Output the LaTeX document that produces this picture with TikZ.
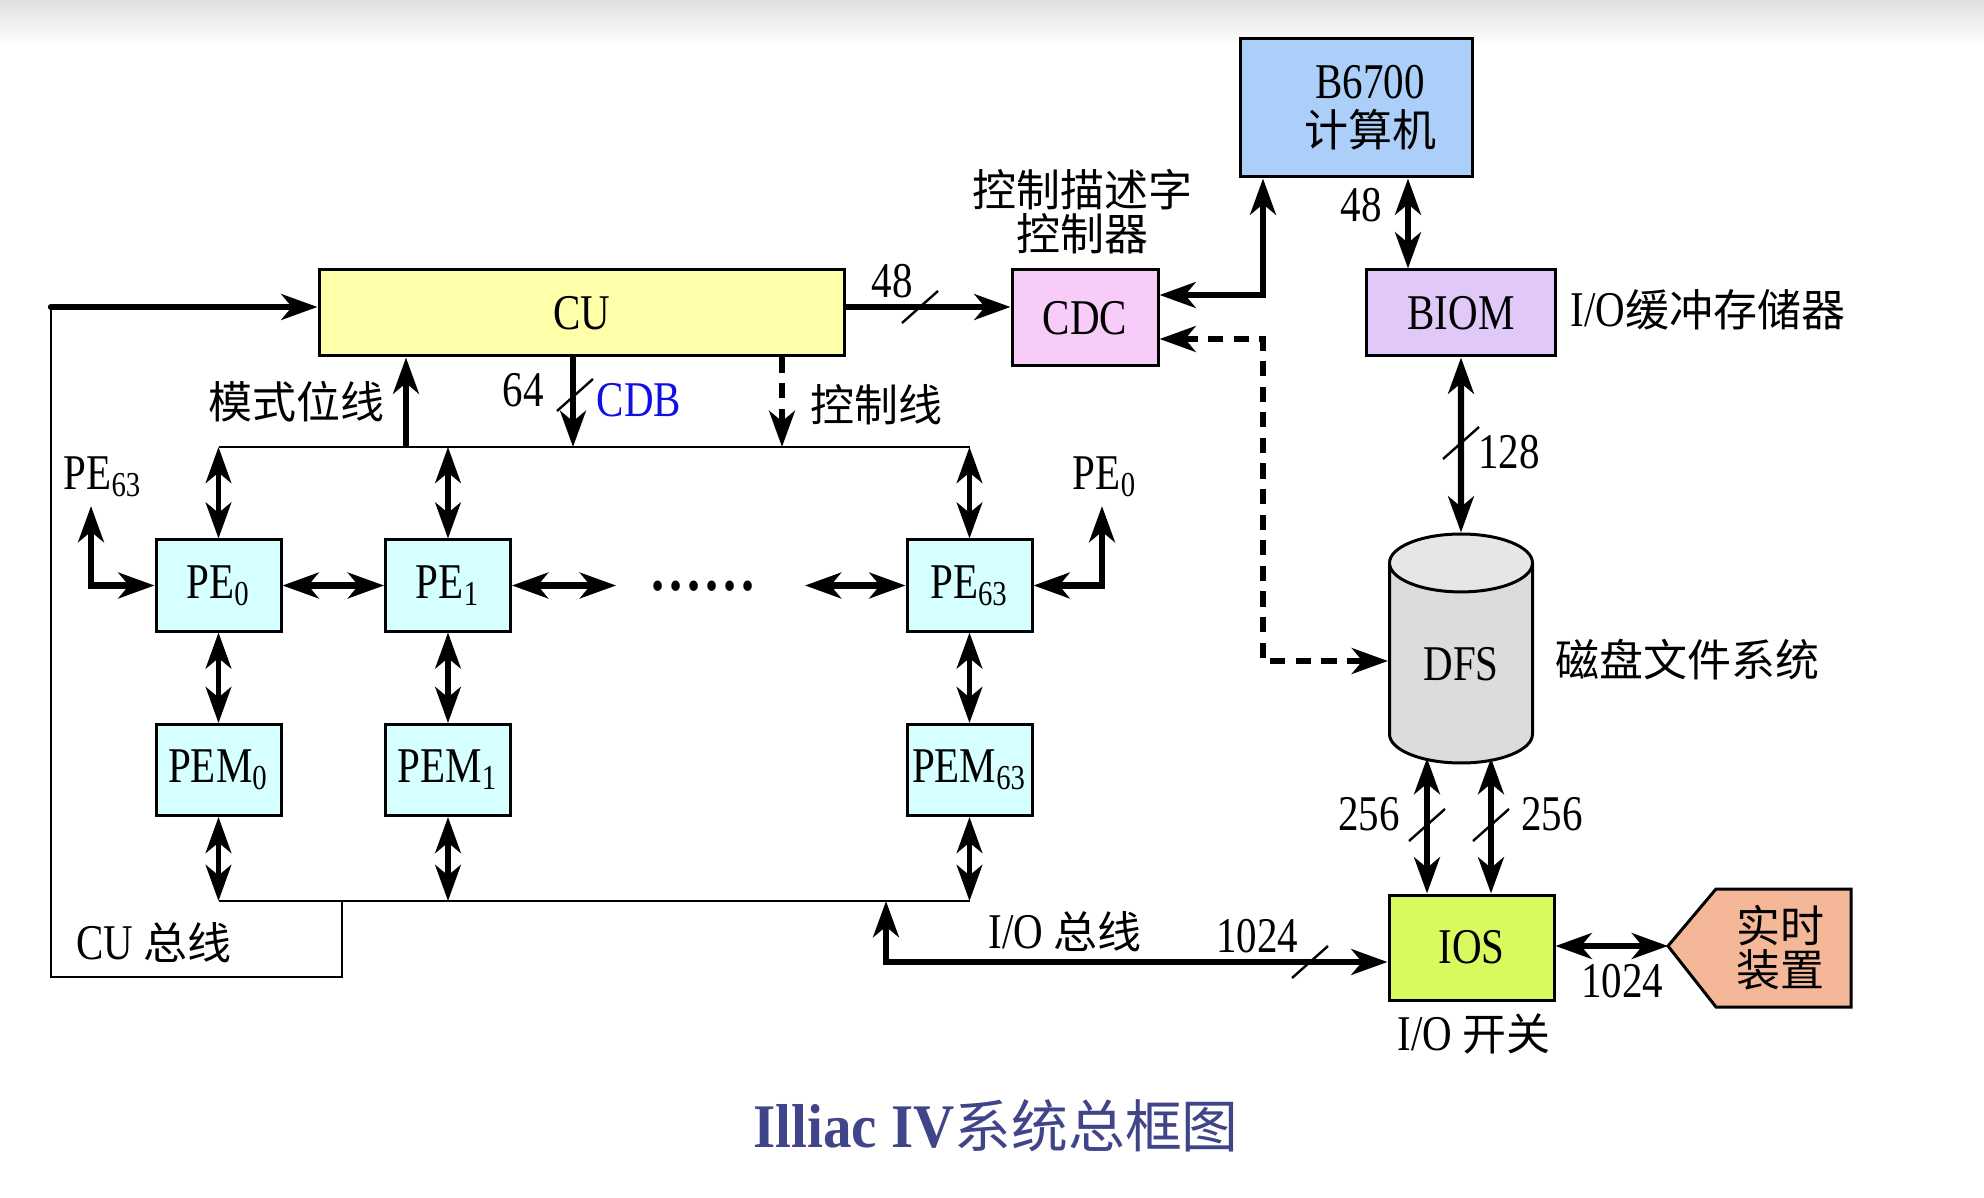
\documentclass[tikz,border=0pt]{standalone}
\usepackage{fontspec}
\setmainfont{Liberation Serif}[FakeStretch=0.82]
\newfontfamily\cjk{Noto Sans CJK SC}
\newfontfamily\titlefont{Liberation Serif}[FakeStretch=0.92]
\usetikzlibrary{arrows.meta,shapes.geometric}

\definecolor{cucol}{RGB}{255,255,170}
\definecolor{cdccol}{RGB}{248,204,248}
\definecolor{hostcol}{RGB}{171,207,248}
\definecolor{biomcol}{RGB}{224,200,248}
\definecolor{pecol}{RGB}{214,255,255}
\definecolor{dfscol}{RGB}{220,220,220}
\definecolor{dfstop}{RGB}{230,230,230}
\definecolor{ioscol}{RGB}{216,250,94}
\definecolor{rtdcol}{RGB}{244,184,152}
\definecolor{titlecol}{RGB}{64,68,136}
\definecolor{cdbblue}{RGB}{16,16,230}

\newcommand{\zh}[1]{{\cjk #1}}
\newcommand{\en}[1]{{\rmfamily\fontsize{12.5}{13}\selectfont #1}}
\newcommand{\busmark}[1]{\draw[line width=0.6pt] (#1) +(-18,16) -- +(18,-16);}

\tikzset{every picture/.style={line width=0.75pt}}
\tikzset{
  box/.style={draw, line width=0.75pt, inner sep=0pt, align=center, font=\fontsize{12.5}{12}\selectfont},
  pebox/.style={box, fill=pecol, minimum width=31.25pt, minimum height=22.75pt},
  fat/.style={line width=1.6pt},
  mid/.style={line width=1.3pt},
  thinline/.style={line width=0.6pt},
  dashline/.style={line width=1.6pt, dash pattern=on 3.8pt off 2.6pt},
  numlabel/.style={inner sep=0pt, font=\fontsize{12.5}{13}\selectfont},
  zhlabel/.style={inner sep=0pt, align=center, font=\cjk\fontsize{11}{11}\selectfont},
}

\begin{document}
\begin{tikzpicture}[x=0.25pt,y=0.25pt,yscale=-1,xscale=1,
  >={Stealth[length=9pt,width=6.4pt,inset=2.6pt]}]
\path[use as bounding box, fill=white] (0,0) rectangle (1984,1198);
\shade[top color=black!12, bottom color=white] (0,0) rectangle (1984,46);

% boxes
\node[box, fill=cucol, minimum width=131.25pt, minimum height=21.5pt] (cu) at (581.5,313) {CU};
\node[box, fill=cdccol, minimum width=36.5pt, minimum height=24pt] (cdc) at (1085,318) {CDC};
\node[box, fill=hostcol, minimum width=58pt, minimum height=34.5pt] (b6700) at (1356,108) {\hspace*{7pt}B6700\\\hspace*{7pt}\zh{\fontsize{11}{12}\selectfont 计算机}};
\node[box, fill=biomcol, minimum width=47.25pt, minimum height=21.5pt] (biom) at (1461,313) {BIOM};
\node[box, cylinder, shape border rotate=90, aspect=0.77, cylinder uses custom fill, cylinder body fill=dfscol, cylinder end fill=dfstop, minimum width=35.75pt, minimum height=57.25pt, anchor=shape center] (dfs) at (1461,648.5) {DFS};
\node[box, fill=ioscol, minimum width=41.25pt, minimum height=26.25pt] (ios) at (1471.5,947.5) {IOS};

% PE and PEM
\node[pebox] (pe0) at (218.5,585.5) {PE\textsubscript{0}};
\node[pebox] (pe1) at (448,585.5) {PE\textsubscript{1}};
\node[pebox] (pe63) at (969.5,585.5) {PE\textsubscript{63}};
\node[pebox] (pem0) at (218.5,770) {PEM\textsubscript{0}};
\node[pebox] (pem1) at (448,770) {PEM\textsubscript{1}};
\node[pebox] (pem63) at (969.5,770) {PEM\textsubscript{63}};

% real time device
\draw[line width=0.75pt, fill=rtdcol] (1668,946) -- (1716,889) -- (1851,889) -- (1851,1007) -- (1716,1007) -- cycle;
\coordinate (rtdtip) at (1668,946);
\node[zhlabel] (rtd) at (1780,948) {实时\\装置};

% helper points
\coordinate (feed) at (51,307);
\coordinate (cubus) at (342,977);
\coordinate (bustopL) at (219,447);
\coordinate (bustopR) at (970,447);
\coordinate (busbotL) at (219,901);
\coordinate (busbotR) at (970,901);
\coordinate (mode) at (406,447);
\coordinate (cdb) at (573,447);
\coordinate (ctrl) at (782,447);
\coordinate (iobus) at (886,962);
\coordinate (cdcup) at (1263,295);
\coordinate (cdcdash) at (1263,339);
\coordinate (dfsdash) at (1263,661);
\coordinate (hostbiom) at (1408,250);
\coordinate (dfsL) at (1427,758);
\coordinate (dfsR) at (1491,758);
\coordinate (pe63in) at (91,506);
\coordinate (pe0in) at (1102,506);
\coordinate (pe1r) at (616,585.5);
\coordinate (pe63l) at (805,585.5);

% CU side
\draw[fat, line cap=round, ->] (feed) -- (feed -| cu.west);
\draw[thinline] (feed) |- (cubus) -- (cubus |- busbotL);
\draw[fat, ->] (feed -| cu.east) -- (feed -| cdc.west);
\busmark{920,307}
\draw[fat, <->] (cdc.east |- cdcup) -| (b6700.south -| cdcup);
\draw[dashline, <->] (cdc.east |- cdcdash) -- (cdcdash) -- (dfsdash) -- (dfsdash -| dfs.west);
\draw[fat, <->] (b6700.south -| hostbiom) -- (biom.north -| hostbiom);
\draw[fat, <->] (biom.south) -- (dfs.north);
\busmark{1461,443}
\draw[fat, <->] (dfsL) -- (dfsL |- ios.north);
\draw[fat, <->] (dfsR) -- (dfsR |- ios.north);
\busmark{1427,825}
\busmark{1491,825}
\draw[fat, <->] (ios.east |- rtdtip) -- (rtdtip);
\draw[fat, <->] (ios.west |- iobus) -- (iobus) -- (iobus |- busbotL);
\busmark{1310,962}

% buses
\draw[thinline] (bustopL) -- (bustopR);
\draw[thinline] (busbotL) -- (busbotR);
\draw[fat, ->] (mode) -- (mode |- cu.south);
\draw[fat, ->] (cdb |- cu.south) -- (cdb);
\busmark{575,395}
\draw[dashline, ->] (ctrl |- cu.south) -- (ctrl);

% PE links
\draw[mid, <->] (pe0 |- bustopL) -- (pe0.north);
\draw[mid, <->] (pe1 |- bustopL) -- (pe1.north);
\draw[mid, <->] (pe63 |- bustopL) -- (pe63.north);
\draw[mid, <->] (pe0.south) -- (pem0.north);
\draw[mid, <->] (pe1.south) -- (pem1.north);
\draw[mid, <->] (pe63.south) -- (pem63.north);
\draw[mid, <->] (pem0.south) -- (pem0.south |- busbotL);
\draw[mid, <->] (pem1.south) -- (pem1.south |- busbotL);
\draw[mid, <->] (pem63.south) -- (pem63.south |- busbotL);
\draw[fat, <->] (pe0.east) -- (pe1.west);
\draw[fat, <->] (pe1.east) -- (pe1r);
\draw[fat, <->] (pe63l) -- (pe63.west);
\draw[fat, <->] (pe0.west) -| (pe63in);
\draw[fat, <->] (pe63.east) -| (pe0in);
\node[inner sep=0pt, anchor=base, font=\bfseries\fontsize{16}{16}\selectfont] (dots) at (703,590) {.\kern1.2pt.\kern1.2pt.\kern1.2pt.\kern1.2pt.\kern1.2pt.};

% labels
\node[numlabel] (n48a) at (892,281) {48};
\node[numlabel] (n48b) at (1361,205) {48};
\node[numlabel] (n128) at (1509,452) {128};
\node[numlabel] (n256a) at (1369,814) {256};
\node[numlabel] (n256b) at (1552,814) {256};
\node[numlabel] (n1024a) at (1257,936) {1024};
\node[numlabel] (n1024b) at (1622,981) {1024};
\node[numlabel] (n64) at (523,390) {64};
\node[numlabel, text=cdbblue] (cdblbl) at (639,400) {CDB};
\node[numlabel] (pe63lbl) at (103,477) {PE\textsubscript{63}};
\node[numlabel] (pe0lbl) at (1105,477) {PE\textsubscript{0}};
\node[zhlabel] (modelbl) at (297,402) {模式位线};
\node[zhlabel] (ctrllbl) at (876,405) {控制线};
\node[zhlabel] (cdcname) at (1082,212) {控制描述字\\控制器};
\node[zhlabel, anchor=west] (biomname) at (1569,310) {\en{I/O}缓冲存储器};
\node[zhlabel, anchor=west] (dfsname) at (1554,660) {磁盘文件系统};
\node[zhlabel] (iosname) at (1474,1034) {\en{I/O} 开关};
\node[zhlabel] (iobuslbl) at (1065,932) {\en{I/O} 总线};
\node[zhlabel] (cubuslbl) at (154,943) {\en{CU} 总线};
\node[inner sep=0pt, text=titlecol] (title) at (996,1126) {\titlefont\bfseries\fontsize{15.5}{16}\selectfont Illiac IV\zh{\mdseries\fontsize{14.2}{16}\selectfont 系统总框图}};
\end{tikzpicture}
\end{document}
